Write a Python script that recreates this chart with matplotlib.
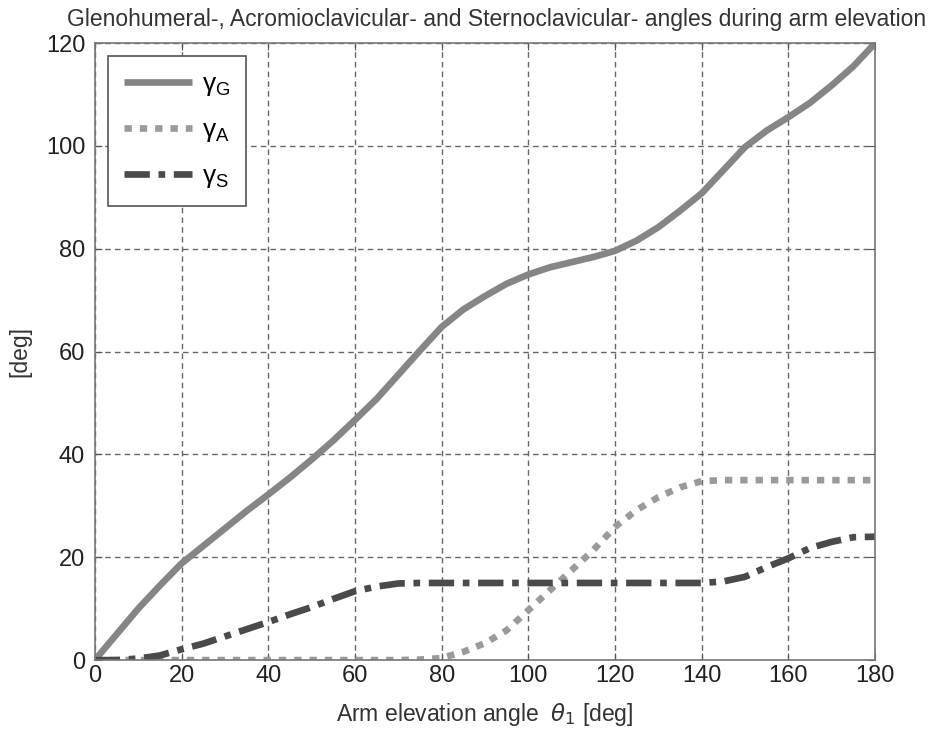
import matplotlib
matplotlib.use("Agg")
from matplotlib import pyplot as plt
import numpy as np

plt.rcParams['font.family'] = ['Liberation Sans', 'DejaVu Sans']
plt.rcParams['mathtext.fontset'] = 'dejavusans'

# kut elevacije ruke [deg]
theta = [0, 5, 10, 15, 20, 25, 30, 35, 40, 45, 50, 55, 60, 65, 70, 75, 80, 85, 90,
         95, 100, 105, 110, 115, 120, 125, 130, 135, 140, 145, 150, 155, 160, 165,
         170, 175, 180]

# glenohumeralni kut
gamma_G = [0, 5, 10, 14.5, 18.8, 22.2, 25.6, 29, 32.2, 35.5, 39, 42.7, 46.7, 50.8,
           55.5, 60.2, 64.8, 68.2, 70.8, 73.2, 75, 76.4, 77.4, 78.4, 79.6, 81.6,
           84.2, 87.4, 90.8, 95.3, 99.8, 103, 105.6, 108.4, 111.8, 115.5, 120]

# akromioklavikularni kut
gamma_A = [0, 0, 0, 0, 0, 0, 0, 0, 0, 0, 0, 0, 0, 0, 0, 0.1, 0.4, 1.6, 3.3,
           5.8, 9.7, 13.6, 17.5, 21.4, 25.9, 29.2, 31.7, 33.6, 34.8, 35, 35, 35,
           35, 35, 35, 35, 35]

# sternoklavikularni kut
gamma_S = [0, 0, 0.3, 0.9, 2.1, 3.2, 4.6, 6, 7.4, 8.9, 10.3, 11.9, 13.4, 14.3,
           14.9, 15, 15, 15, 15, 15, 15, 15, 15, 15, 15, 15, 15, 15, 15, 15.3,
           16.2, 18.1, 19.8, 21.8, 23, 23.9, 24]

fig = plt.figure(figsize=(9.3, 7.31), dpi=100)
ax = fig.add_axes([0.102, 0.097, 0.839, 0.844])

ax.plot(theta, gamma_G, color='#858585', lw=4.8, solid_capstyle='butt',
        label='γ$_\\mathregular{G}$')
ax.plot(theta, gamma_A, color='#9a9a9a', lw=4.8, linestyle=(0, (1.1, 1.2)),
        dash_capstyle='butt', label='γ$_\\mathregular{A}$')
ax.plot(theta, gamma_S, color='#4a4a4a', lw=4.8, linestyle=(0, (3.8, 1.3, 1.0, 1.3)),
        dash_capstyle='butt', label='γ$_\\mathregular{S}$')

ax.set_xlim(0, 180)
ax.set_ylim(0, 120)
ax.set_xticks(np.arange(0, 181, 20))
ax.set_yticks(np.arange(0, 121, 20))
ax.tick_params(direction='in', top=True, right=True, labelsize=17,
               color='#555555', length=5, labelcolor='#222222')
ax.tick_params(axis='y', pad=7)
for s in ax.spines.values():
    s.set_color('#777777')
    s.set_linewidth(1.2)

ax.grid(True, linestyle=(0, (4, 3)), color='#666666', lw=1.0)
ax.set_axisbelow(True)

ax.set_xlabel('Arm elevation angle  $\\theta_1$ [deg]', fontsize=16.5, color='#333333',
              labelpad=10)
ax.set_ylabel('[deg]', fontsize=16.5, color='#333333', labelpad=10)
ax.set_title('Glenohumeral-, Acromioclavicular- and Sternoclavicular- angles during arm elevation',
             fontsize=16.5, color='#333333', pad=12, x=0.515)

leg = ax.legend(loc='upper left', fontsize=19, handlelength=2.6, borderpad=0.6,
                labelspacing=0.75, handletextpad=0.35, fancybox=False, framealpha=1,
                edgecolor='#555555', borderaxespad=0.5)
leg.get_frame().set_linewidth(1.2)

plt.savefig('out.png', dpi=100)
